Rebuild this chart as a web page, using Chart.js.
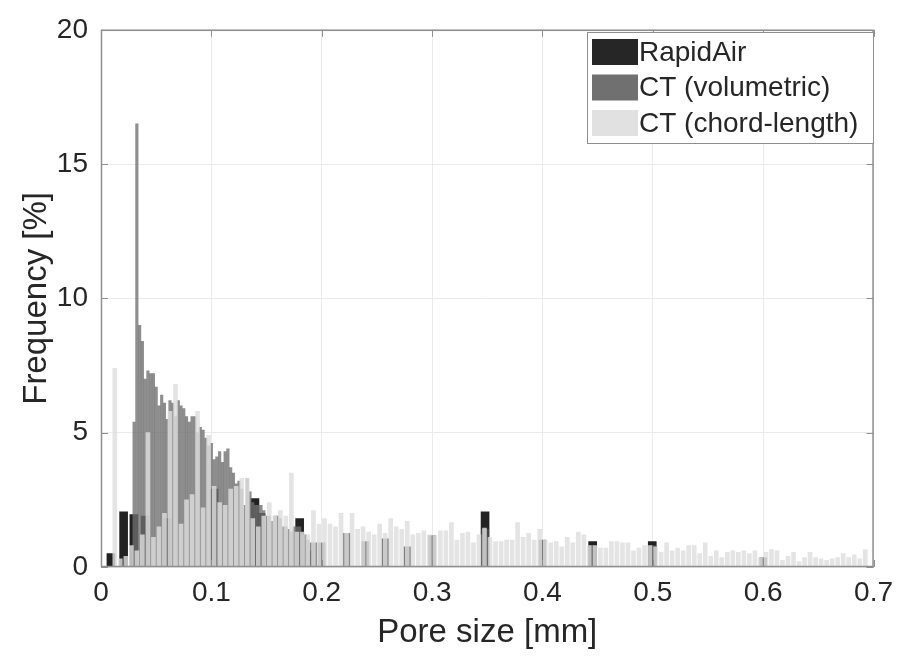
<!DOCTYPE html>
<html>
<head>
<meta charset="utf-8">
<script src="https://cdn.jsdelivr.net/npm/chart.js@4.4.1/dist/chart.umd.min.js"></script>
<style>
  html, body { margin: 0; padding: 0; background: #fff; }
  #myChart { display: block; }
</style>
</head>
<body>
<canvas id="myChart" width="902" height="656"></canvas>
<script>
// histogram bins (mm) and frequencies (%)
const chordStart = 0.0125;
const chordStep = 0.005;
const chordValues = [
  7.4, 0.3, 0.4, 0.8, 0.6, 1.2, 5.0, 1.1, 1.5, 2.0, 5.8, 6.8, 1.6, 2.5, 2.7, 5.8, 2.2, 4.9,
  3.0, 2.4, 2.3, 2.9, 3.0, 3.3, 3.3, 1.8, 1.5, 1.9, 2.4, 1.9, 2.1, 1.9, 3.5, 1.3, 1.3, 1.2, 2.1, 1.6,
  1.8,
  1.6, 1.5, 2.0, 1.25, 2.0, 1.4, 1.5, 1.3, 1.2, 1.6, 1.25, 1.8, 1.5, 1.4, 1.7, 1.2, 1.25, 1.35, 1.2, 1.17,
  1.35, 1.35, 1.65, 1.0, 1.25, 1.3, 0.9, 1.2, 1.45, 1.1, 0.95, 0.95, 1.0, 1.0, 1.65, 1.1, 1.25, 1.0, 1.4, 1.0,
  0.9, 0.95, 0.75, 1.1, 0.9, 1.3, 1.2, 0.8, 0.8, 0.7, 0.7, 0.95, 0.95, 0.9,
  0.9, 0.6, 0.7, 0.8, 0.8, 0.75, 0.55, 0.9, 0.6, 0.7, 0.6, 0.8,
  0.8, 0.5, 0.9, 0.4, 0.6, 0.35, 0.55, 0.6, 0.55, 0.6, 0.5, 0.6, 0.35, 0.55, 0.65, 0.6,
  0.25, 0.4, 0.55, 0.2, 0.35, 0.55, 0.35, 0.3, 0.25, 0.3, 0.35, 0.5, 0.35, 0.45, 0.3, 0.65
];

const volStart = 0.03;
const volStep = 0.0025;
const volValues = [
  5.4, 16.5, 9.0, 8.4, 7.0, 7.3, 7.2, 7.2, 6.7, 6.0, 6.4, 6.1, 5.5, 6.2, 6.1, 5.6, 6.2, 6.0, 5.9, 5.6,
  5.4, 5.6, 5.6, 5.0, 5.2, 5.1, 4.8, 4.5, 4.6, 4.0, 4.1, 4.3, 3.9, 4.3, 4.4, 3.7, 3.5, 3.1, 3.2, 2.9,
  2.3, 3.3, 2.8, 2.4, 2.3, 2.3, 2.3, 2.1, 1.9, 1.9, 1.7, 1.9, 1.9, 1.8, 1.5, 1.5, 1.4, 1.3, 1.5, 1.5,
  1.5, 1.2, 1.2, 1.0, 0.6
];
// sparse larger volumetric bins
const volTailX = [0.1925, 0.2, 0.2225, 0.2395, 0.2575, 0.2775, 0.3, 0.348, 0.4, 0.445, 0.5, 0.6];
const volTailY = [0.9, 0.9, 1.25, 0.95, 1.05, 0.75, 1.17, 1.4, 1.0, 0.8, 0.8, 0.35];

const rapidX = [0.009, 0.0205, 0.0298, 0.04, 0.06, 0.1025, 0.1395, 0.145, 0.18, 0.348, 0.4455, 0.4995];
const rapidY = [0.5, 2.05, 1.95, 1.9, 1.8, 2.9, 2.55, 2.0, 1.8, 2.05, 0.95, 0.95];

const xTicks = [0, 0.1, 0.2, 0.3, 0.4, 0.5, 0.6, 0.7];
const yTicks = [0, 5, 10, 15, 20];

const toPoints = (xs, ys) => xs.map((x, i) => ({ x: x, y: ys[i] }));
const chordX = chordValues.map((_, i) => chordStart + i * chordStep);
const volX = volValues.map((_, i) => volStart + i * volStep);

const FONT = "'Liberation Sans', Arial, sans-serif";
const TEXT = "#262626";

// MATLAB style box with inward ticks
const boxPlugin = {
  id: "box",
  afterDatasetsDraw(chart) {
    const { ctx, chartArea: a, scales } = chart;
    ctx.save();
    ctx.strokeStyle = "#8f8f8f";
    ctx.lineWidth = 1;
    ctx.beginPath();
    scales.x.ticks.forEach((t) => {
      const px = Math.round(scales.x.getPixelForValue(t.value)) + 0.5;
      ctx.moveTo(px, a.bottom); ctx.lineTo(px, a.bottom - 7);
      ctx.moveTo(px, a.top); ctx.lineTo(px, a.top + 7);
    });
    scales.y.ticks.forEach((t) => {
      const py = Math.round(scales.y.getPixelForValue(t.value)) + 0.5;
      ctx.moveTo(a.left, py); ctx.lineTo(a.left + 7, py);
      ctx.moveTo(a.right, py); ctx.lineTo(a.right - 7, py);
    });
    ctx.stroke();
    ctx.lineWidth = 1.5;
    ctx.strokeRect(a.left + 0.5, a.top + 0.5, a.width - 1, a.height - 1);
    ctx.restore();
  },
};

// legend box in the upper right corner of the plot
const legendPlugin = {
  id: "cornerLegend",
  afterDraw(chart) {
    const { ctx } = chart;
    const items = chart.data.datasets.filter((d) => d.inLegend);
    const x0 = 587, y0 = 32, w = 286, h = 111;
    ctx.save();
    ctx.fillStyle = "#fff";
    ctx.fillRect(x0, y0, w, h);
    ctx.strokeStyle = "#8f8f8f";
    ctx.lineWidth = 1;
    ctx.strokeRect(x0 + 0.5, y0 + 0.5, w, h);
    ctx.font = "28px " + FONT;
    ctx.textBaseline = "middle";
    items.forEach((d, i) => {
      const cy = y0 + 20 + i * 35.5;
      ctx.fillStyle = d.swatch;
      ctx.fillRect(x0 + 5, cy - 13, 46, 26);
      ctx.fillStyle = TEXT;
      ctx.fillText(d.label, x0 + 52, cy + 1);
    });
    ctx.restore();
  },
};

const ctx = document.getElementById("myChart");

new Chart(ctx, {
  type: "bar",
  data: {
    datasets: [
      {
        label: "RapidAir",
        data: toPoints(rapidX, rapidY),
        backgroundColor: "rgba(22, 22, 22, 0.95)",
        swatch: "rgb(38, 38, 38)",
        inLegend: true,
        barThickness: 8,
        order: 4,
      },
      {
        label: "CT (volumetric)",
        data: toPoints(volX, volValues),
        backgroundColor: "rgba(110, 110, 110, 0.78)",
        swatch: "rgb(112, 112, 112)",
        inLegend: true,
        barThickness: 2.5,
        order: 3,
      },
      {
        label: "CT (volumetric) tail",
        data: toPoints(volTailX, volTailY),
        backgroundColor: "rgba(80, 80, 80, 0.8)",
        inLegend: false,
        barThickness: 7,
        order: 2,
      },
      {
        label: "CT (chord-length)",
        data: toPoints(chordX, chordValues),
        backgroundColor: "rgba(222, 222, 222, 0.82)",
        swatch: "rgb(225, 225, 225)",
        inLegend: true,
        barThickness: 4,
        order: 1,
      },
    ],
  },
  options: {
    responsive: false,
    animation: false,
    devicePixelRatio: 1,
    grouped: false,
    layout: { padding: { top: 20, right: 25, left: 0, bottom: 0 } },
    scales: {
      x: {
        type: "linear",
        min: 0,
        max: 0.7,
        offset: false,
        afterFit: (s) => { s.height = 89; },
        afterBuildTicks: (s) => { s.ticks = xTicks.map((v) => ({ value: v })); },
        grid: { color: "#ebebeb", drawTicks: false, offset: false },
        border: { display: false },
        ticks: {
          padding: 9,
          color: TEXT,
          font: { family: FONT, size: 28 },
          callback: (v) => String(+v.toFixed(1)),
        },
        title: {
          display: true,
          text: "Pore size [mm]",
          color: TEXT,
          font: { family: FONT, size: 33 },
          padding: { top: 0, bottom: 3 },
        },
      },
      y: {
        min: 0,
        max: 20,
        afterFit: (s) => { s.width = 101; },
        afterBuildTicks: (s) => { s.ticks = yTicks.map((v) => ({ value: v })); },
        grid: { color: "#ebebeb", drawTicks: false },
        border: { display: false },
        ticks: {
          padding: 13,
          color: TEXT,
          font: { family: FONT, size: 28 },
        },
        title: {
          display: true,
          text: "Frequency [%]",
          color: TEXT,
          font: { family: FONT, size: 33 },
          padding: { top: 17, bottom: 0 },
        },
      },
    },
    plugins: {
      legend: { display: false },
      tooltip: { enabled: false },
    },
  },
  plugins: [boxPlugin, legendPlugin],
});
</script>
</body>
</html>
